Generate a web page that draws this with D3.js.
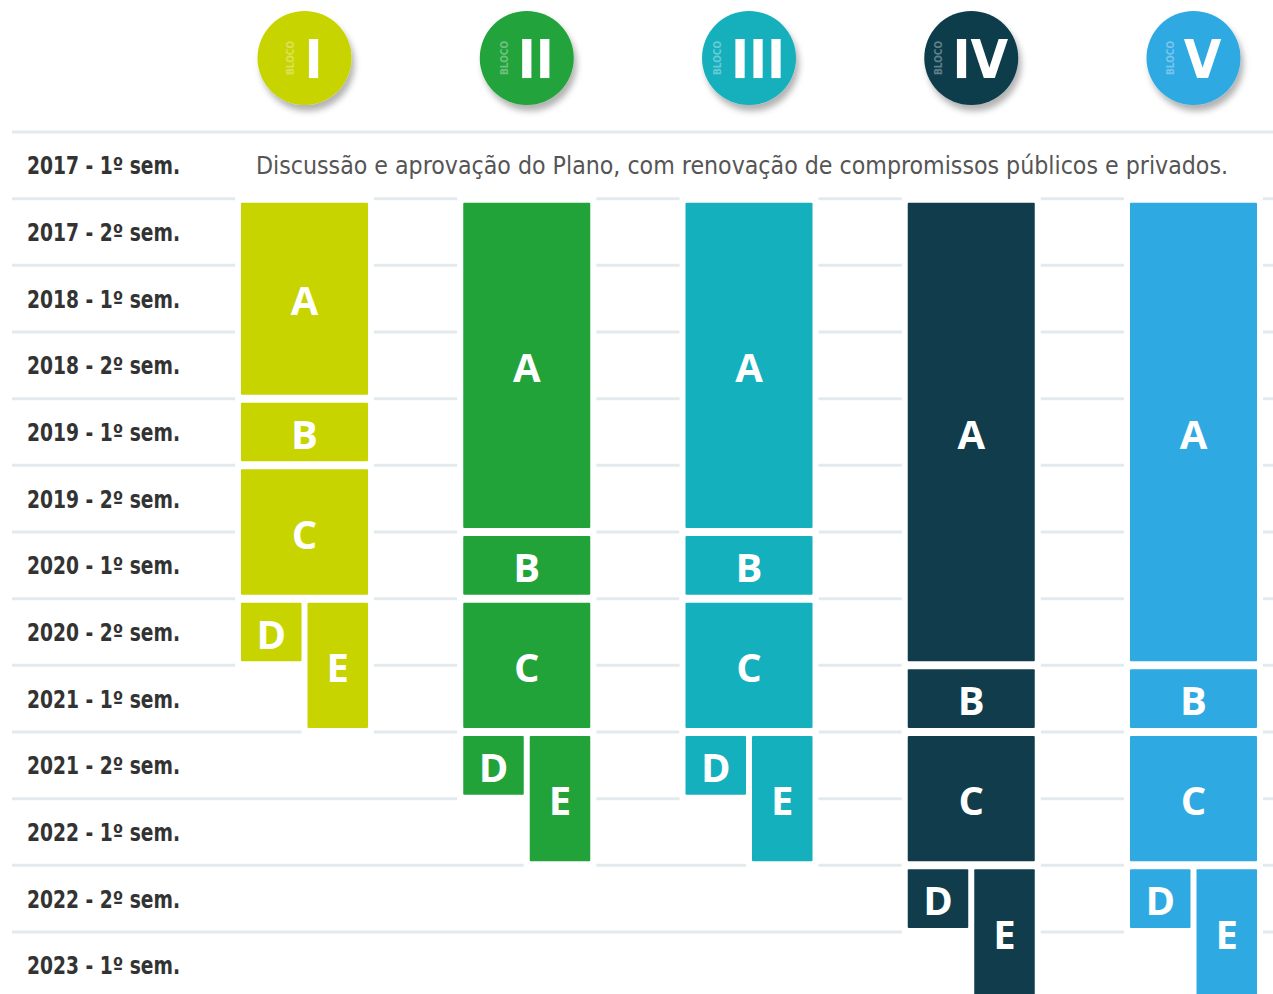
<!DOCTYPE html>
<html>
<head>
<meta charset="utf-8">
<script src="https://cdn.jsdelivr.net/npm/d3@7"></script>
<style>
  html, body { margin: 0; padding: 0; background: #fff; }
  svg { display: block; }
</style>
</head>
<body>
<div class="main-chart"></div>
<script>
// semestres (linhas)
const semesters = [
  "2017 - 1º sem.", "2017 - 2º sem.", "2018 - 1º sem.", "2018 - 2º sem.",
  "2019 - 1º sem.", "2019 - 2º sem.", "2020 - 1º sem.", "2020 - 2º sem.",
  "2021 - 1º sem.", "2021 - 2º sem.", "2022 - 1º sem.", "2022 - 2º sem.",
  "2023 - 1º sem."
];
// blocos (colunas)
const blocos = ["I", "II", "III", "IV", "V"];
const blocoColors = ["#c8d400", "#21a33a", "#14b0bd", "#113c4c", "#2fa9e1"];
const firstRowNote = "Discussão e aprovação do Plano, com renovação de compromissos públicos e privados.";

// fases: [semestre inicial, semestre final] para cada bloco
const faseA = [[1, 3], [1, 5], [1, 5], [1, 7], [1, 7]];
const faseB = [[4, 4], [6, 6], [6, 6], [8, 8], [8, 8]];
const faseC = [[5, 6], [7, 8], [7, 8], [9, 10], [9, 10]];
const faseD = [[7, 7], [9, 9], [9, 9], [11, 11], [11, 11]];
const faseE = [[7, 8], [9, 10], [9, 10], [11, 12], [11, 12]];
const fases = {A: faseA, B: faseB, C: faseC, D: faseD, E: faseE};

const W = 1273, H = 994;
const svg = d3.select(".main-chart").append("svg")
  .attr("width", W).attr("height", H);

// sombra dos círculos
const defs = svg.append("defs");
defs.append("filter").attr("id", "shadow")
  .attr("x", "-30%").attr("y", "-30%").attr("width", "170%").attr("height", "170%")
  .append("feDropShadow")
  .attr("dx", 3).attr("dy", 6).attr("stdDeviation", 3)
  .attr("flood-color", "#000").attr("flood-opacity", 0.3);

const y = d3.scaleBand().domain(semesters).range([132, 132 + 13 * 66.67]);
const x = d3.scaleBand().domain(blocos).range([241, 1257]).paddingInner(0.4285).paddingOuter(0);
const color = d3.scaleOrdinal().domain(blocos).range(blocoColors);

// linhas de grade
const gridYs = semesters.map(s => y(s)).concat([y.range()[1]]);
svg.append("g").selectAll("line").data(gridYs).enter().append("line")
  .attr("x1", 12).attr("x2", W)
  .attr("y1", d => d).attr("y2", d => d)
  .attr("stroke", "#e3eaed").attr("stroke-width", 3);

// rótulos das linhas
svg.append("g").selectAll("text").data(semesters).enter().append("text")
  .attr("x", 27)
  .attr("y", d => y(d) + y.bandwidth() / 2 + 1)
  .attr("dominant-baseline", "central")
  .attr("font-family", "'Liberation Sans Narrow', 'DejaVu Sans Condensed', sans-serif")
  .attr("font-weight", "bold")
  .attr("font-size", 24)
  .attr("fill", "#333")
  .attr("textLength", 153).attr("lengthAdjust", "spacingAndGlyphs")
  .text(d => d);

svg.append("text")
  .attr("x", 256)
  .attr("y", y(semesters[0]) + y.bandwidth() / 2 + 1)
  .attr("dominant-baseline", "central")
  .attr("font-family", "'Liberation Sans Narrow', 'DejaVu Sans Condensed', sans-serif")
  .attr("font-size", 24)
  .attr("fill", "#555")
  .attr("textLength", 972).attr("lengthAdjust", "spacingAndGlyphs")
  .text(firstRowNote);

// montar barras
const bars = [];
blocos.forEach((b, i) => {
  Object.keys(fases).forEach(f => {
    const [s, e] = fases[f][i];
    let x0 = x(b), w = x.bandwidth();
    const half = (w - 6) / 2;
    if (f === "D") { w = half; }
    if (f === "E") { x0 = x0 + half + 6; w = x.bandwidth() - half - 6; }
    const y0 = y(semesters[s]) + 4;
    const y1 = y(semesters[e]) + y.bandwidth() - 4;
    bars.push({bloco: b, fase: f, x: x0, w: w, y: y0, h: y1 - y0});
  });
});

// halo branco por trás
svg.append("g").selectAll("rect").data(bars).enter().append("rect")
  .attr("x", d => d.x - 6).attr("y", d => d.y - 6)
  .attr("width", d => d.w + 12).attr("height", d => d.h + 12)
  .attr("fill", "#fff");

svg.append("g").selectAll("rect").data(bars).enter().append("rect")
  .attr("x", d => d.x).attr("y", d => d.y)
  .attr("width", d => d.w).attr("height", d => d.h)
  .attr("rx", 1)
  .attr("fill", d => color(d.bloco));

svg.append("g").selectAll("text").data(bars).enter().append("text")
  .attr("x", d => d.x + d.w / 2)
  .attr("y", d => d.y + d.h / 2 + 1)
  .attr("text-anchor", "middle")
  .attr("dominant-baseline", "central")
  .attr("font-family", "'Open Sans', sans-serif")
  .attr("font-weight", "bold")
  .attr("font-size", 40)
  .attr("fill", "#fff")
  .text(d => d.fase);

// cabeçalho com círculos
const head = svg.append("g").selectAll("g").data(blocos).enter().append("g")
  .attr("transform", d => `translate(${x(d) + x.bandwidth() / 2}, 58)`);

head.append("circle")
  .attr("r", 47)
  .attr("fill", d => color(d))
  .attr("filter", "url(#shadow)");

head.each(function(d) {
  const g = d3.select(this);
  const num = g.append("text")
    .attr("y", 20)
    .attr("font-family", "'DejaVu Sans Condensed', sans-serif")
    .attr("font-weight", "bold")
    .attr("font-size", 54)
    .attr("fill", "#fff")
    .text(d);
  const nw = num.node().getComputedTextLength();
  const total = 10 + 8 + nw;
  const left = -total / 2;
  num.attr("x", left + 18);
  g.append("text")
    .attr("transform", `translate(${left + 8}, 0) rotate(-90)`)
    .attr("text-anchor", "middle")
    .attr("font-family", "'DejaVu Sans Condensed', sans-serif")
    .attr("font-weight", "bold")
    .attr("font-size", 10)
    .attr("fill", "rgba(255,255,255,0.35)")
    .text("BLOCO");
});
</script>
</body>
</html>
